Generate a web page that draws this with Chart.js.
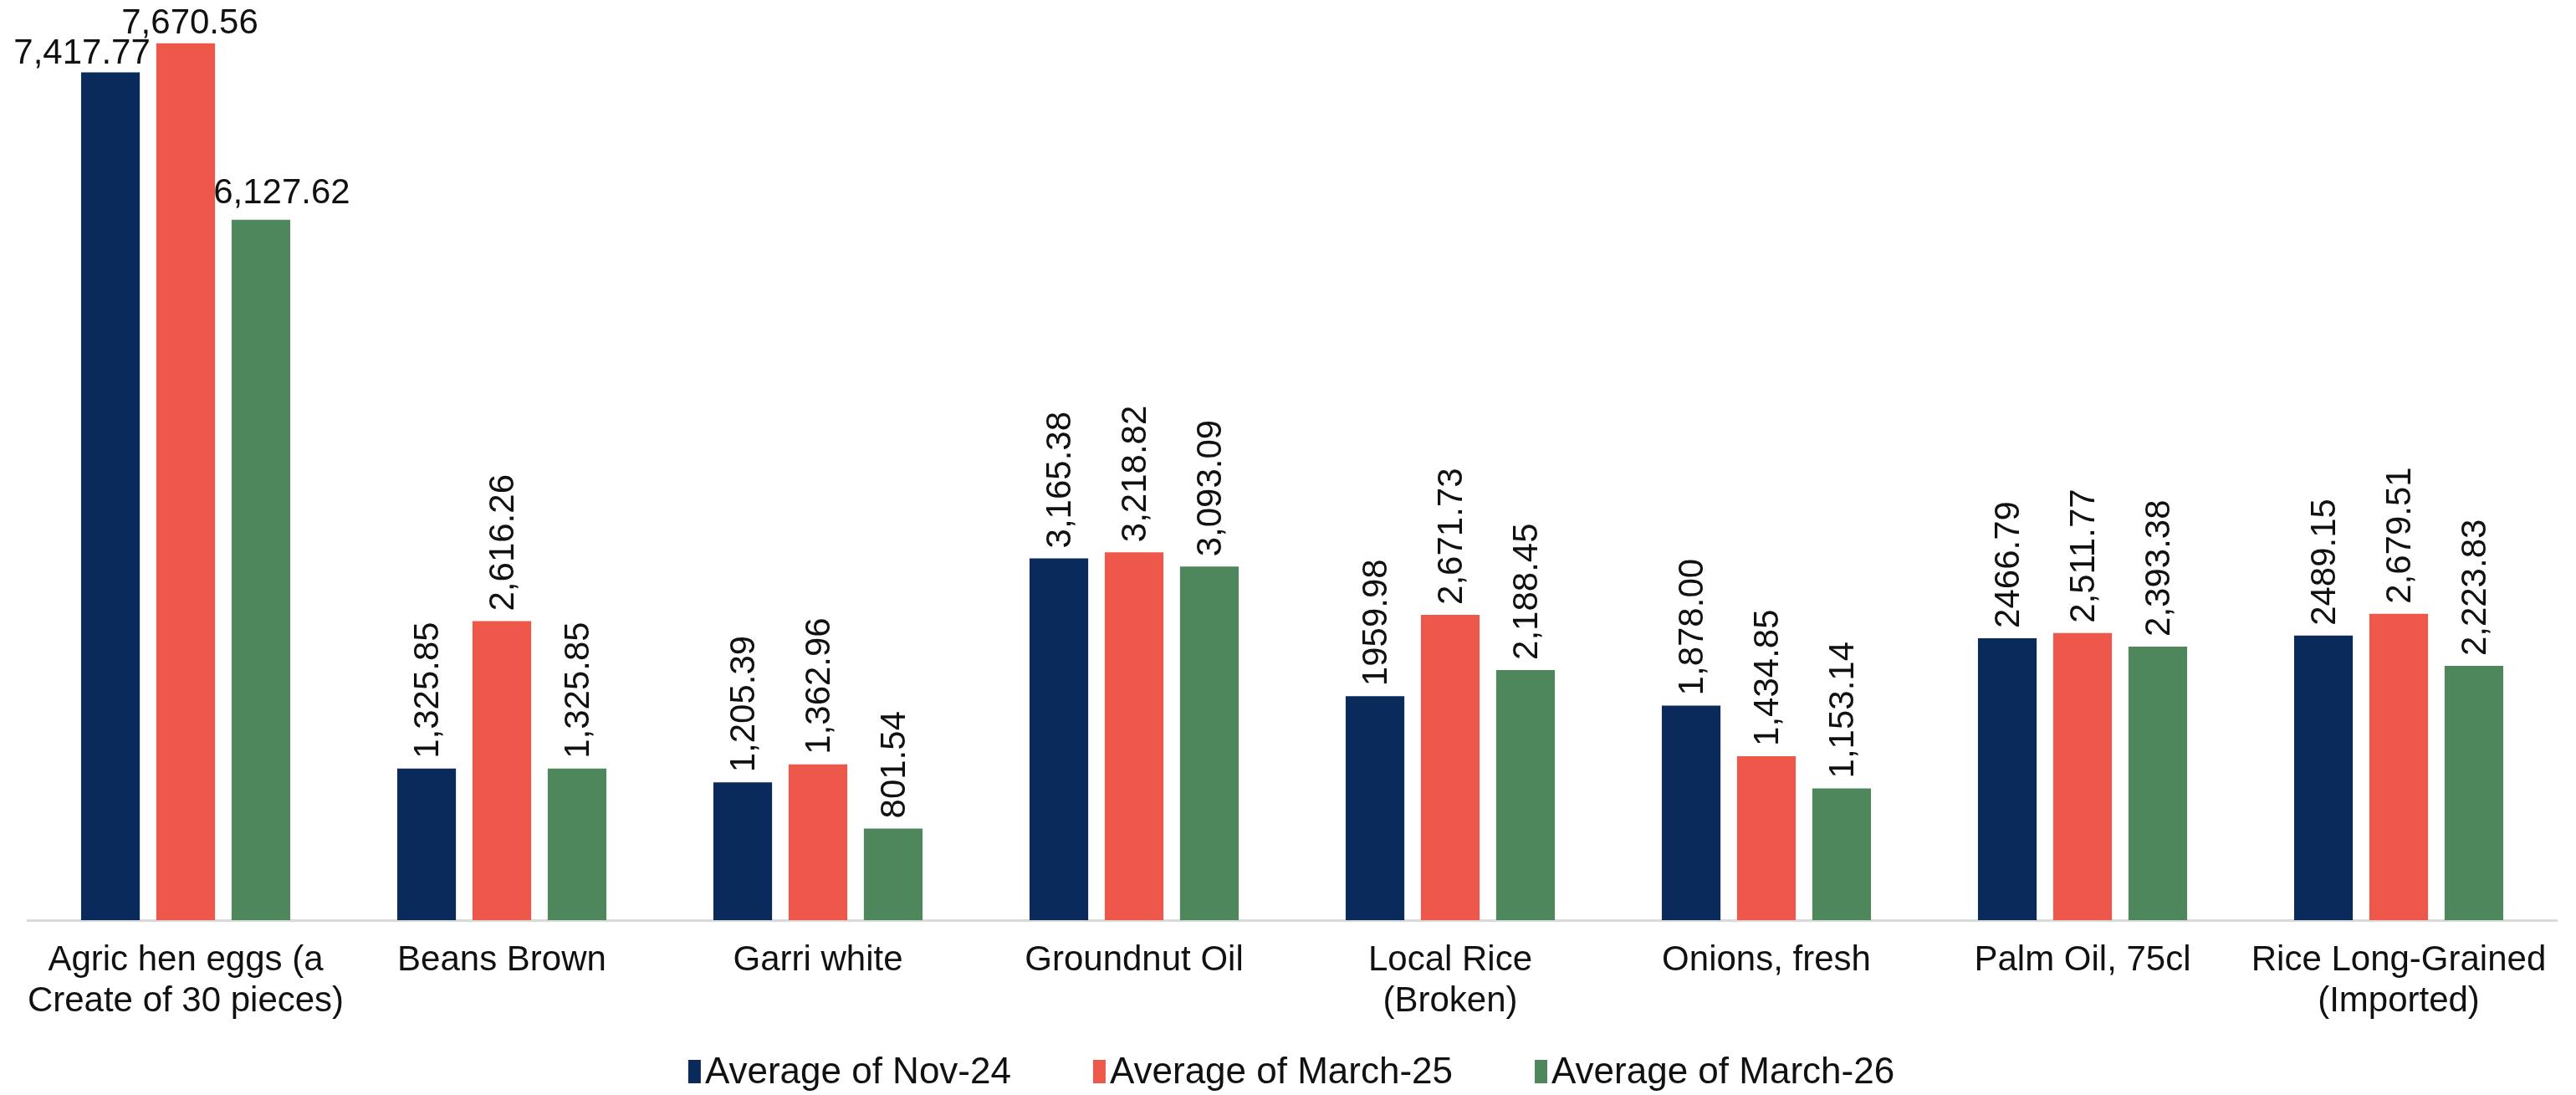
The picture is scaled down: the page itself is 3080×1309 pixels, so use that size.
<!DOCTYPE html>
<html>
<head>
<meta charset="utf-8">
<title>Average food prices</title>
<script src="https://cdn.jsdelivr.net/npm/chart.js@4/dist/chart.umd.min.js"></script>
<style>
  html, body { margin: 0; padding: 0; background: #ffffff; }
  #wrap { width: 3080px; height: 1309px; }
</style>
</head>
<body>
<div id="wrap"><canvas id="price-chart" width="3080" height="1309"></canvas></div>
<script>
// ------------------------------------------------------
// Data
// ------------------------------------------------------
const categories = [
  ["Agric hen eggs (a", "Create of 30 pieces)"],
  "Beans Brown",
  "Garri white",
  "Groundnut Oil",
  ["Local Rice", "(Broken)"],
  "Onions, fresh",
  "Palm Oil, 75cl",
  ["Rice Long-Grained", "(Imported)"]
];

const seriesNames = ["Average of Nov-24", "Average of March-25", "Average of March-26"];

const nov24 = [7417.77, 1325.85, 1205.39, 3165.38, 1959.98, 1878.00, 2466.79, 2489.15];
const mar25 = [7670.56, 2616.26, 1362.96, 3218.82, 2671.73, 1434.85, 2511.77, 2679.51];
const mar26 = [6127.62, 1325.85, 801.54, 3093.09, 2188.45, 1153.14, 2393.38, 2223.83];

// value labels as printed above each bar
const nov24Text = ["7,417.77", "1,325.85", "1,205.39", "3,165.38", "1959.98", "1,878.00", "2466.79", "2489.15"];
const mar25Text = ["7,670.56", "2,616.26", "1,362.96", "3,218.82", "2,671.73", "1,434.85", "2,511.77", "2,679.51"];
const mar26Text = ["6,127.62", "1,325.85", "801.54", "3,093.09", "2,188.45", "1,153.14", "2,393.38", "2,223.83"];

const colors = ["#0B2A5C", "#EE584A", "#4E875C"];

const FONT = "'Liberation Sans', Arial, sans-serif";

// ------------------------------------------------------
// Plugins
// ------------------------------------------------------
// bar value labels: flat over the first group, rotated for the rest
const valueLabels = {
  id: "valueLabels",
  afterDatasetsDraw(chart) {
    const ctx = chart.ctx;
    const texts = [nov24Text, mar25Text, mar26Text];
    const firstNudge = [-34, 5, 25];
    const firstGap = [10, 12, 20];

    ctx.save();
    ctx.fillStyle = "#111111";
    ctx.font = "42px " + FONT;

    chart.data.datasets.forEach(function (ds, di) {
      const meta = chart.getDatasetMeta(di);
      meta.data.forEach(function (bar, i) {
        const txt = texts[di][i];
        if (i === 0) {
          ctx.textAlign = "center";
          ctx.textBaseline = "alphabetic";
          ctx.fillText(txt, bar.x + firstNudge[di], bar.y - firstGap[di]);
        } else {
          ctx.save();
          ctx.translate(bar.x, bar.y - 12);
          ctx.rotate(-Math.PI / 2);
          ctx.textAlign = "left";
          ctx.textBaseline = "middle";
          ctx.fillText(txt, 0, 2);
          ctx.restore();
        }
      });
    });
    ctx.restore();
  }
};

// legend row along the bottom edge
const bottomLegend = {
  id: "bottomLegend",
  afterDraw(chart) {
    const ctx = chart.ctx;
    const boxW = 15;
    const boxH = 28;
    const gap = 5;
    const spacing = 98;
    const y = 1281;

    ctx.save();
    ctx.font = "44px " + FONT;
    ctx.textBaseline = "middle";
    ctx.textAlign = "left";

    let total = 0;
    const widths = seriesNames.map(function (n) {
      const w = ctx.measureText(n).width;
      total += boxW + gap + w;
      return w;
    });
    total += spacing * (seriesNames.length - 1);

    let x = (chart.width - total) / 2 + 4;
    seriesNames.forEach(function (n, i) {
      ctx.fillStyle = colors[i];
      ctx.fillRect(x, y - boxH / 2, boxW, boxH);
      ctx.fillStyle = "#111111";
      ctx.fillText(n, x + boxW + gap, y + 2);
      x += boxW + gap + widths[i] + spacing;
    });
    ctx.restore();
  }
};

// ------------------------------------------------------
// Chart
// ------------------------------------------------------
const ctx = document.getElementById("price-chart").getContext("2d");

new Chart(ctx, {
  type: "bar",
  data: {
    labels: categories,
    datasets: [
      { label: seriesNames[0], data: nov24, backgroundColor: colors[0] },
      { label: seriesNames[1], data: mar25, backgroundColor: colors[1] },
      { label: seriesNames[2], data: mar26, backgroundColor: colors[2] }
    ]
  },
  options: {
    responsive: false,
    devicePixelRatio: 1,
    animation: false,
    layout: { padding: { top: 0, left: 33, right: 23, bottom: 0 } },
    datasets: {
      bar: { categoryPercentage: 0.714, barPercentage: 0.78 }
    },
    plugins: {
      legend: { display: false },
      tooltip: { enabled: false }
    },
    scales: {
      x: {
        grid: { display: false },
        border: { display: true, color: "#D9D9D9", width: 3 },
        ticks: {
          color: "#111111",
          font: { family: FONT, size: 42, lineHeight: 1.17 },
          padding: 16,
          maxRotation: 0,
          autoSkip: false
        },
        afterFit(scale) {
          scale.height = 209;
        }
      },
      y: {
        display: false,
        min: 0,
        max: 8050
      }
    }
  },
  plugins: [valueLabels, bottomLegend]
});
</script>
</body>
</html>
